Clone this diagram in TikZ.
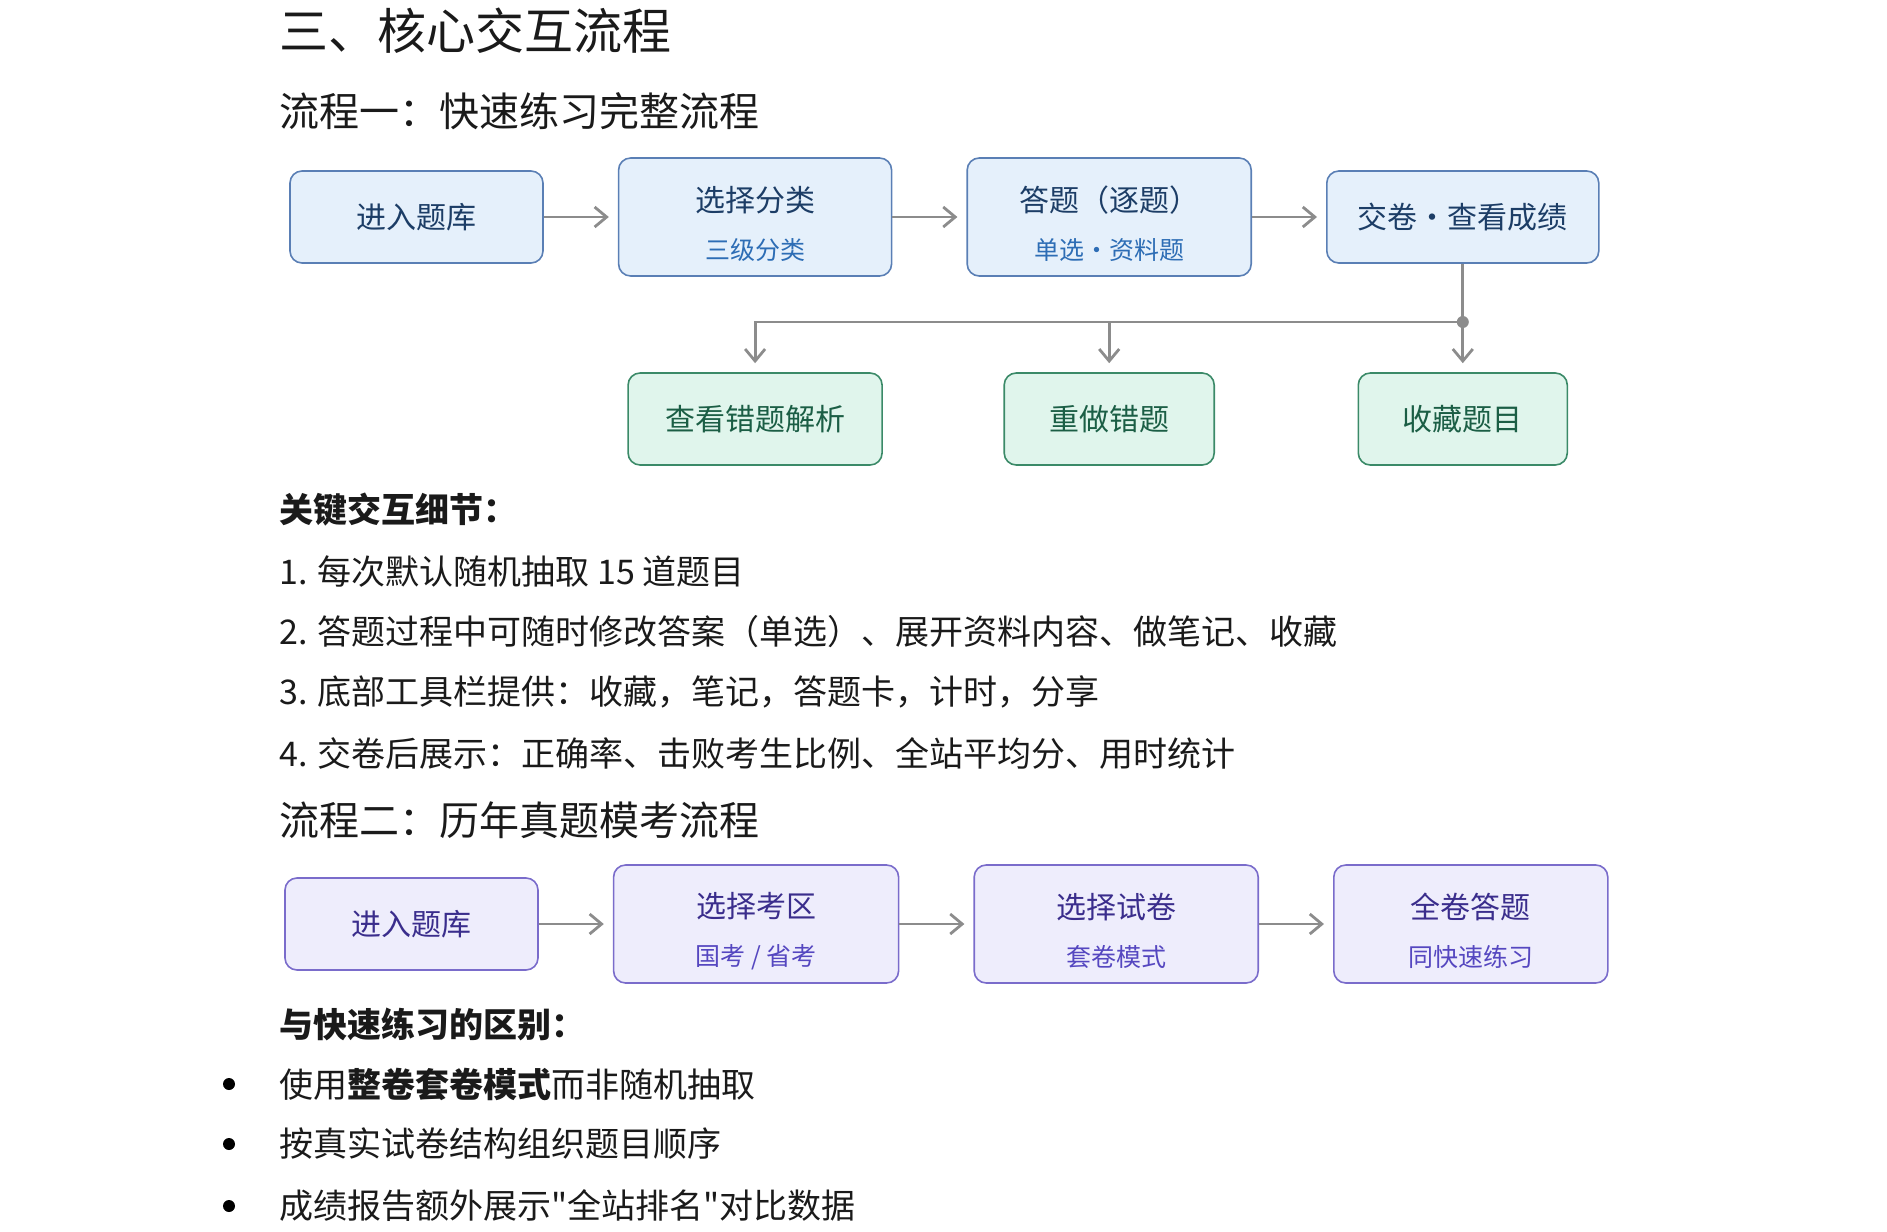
\documentclass[tikz,border=0pt]{standalone}
\usepackage{fontspec}
\setmainfont{Noto Sans CJK SC}
\newfontfamily\plainquote{Noto Sans CJK SC}
\usetikzlibrary{arrows.meta,positioning,calc}

\definecolor{bluefill}{HTML}{E5F0FB}
\definecolor{blueline}{HTML}{5A7FB5}
\definecolor{bluetext}{HTML}{1C3D66}
\definecolor{bluesub}{HTML}{2D6DB5}
\definecolor{greenfill}{HTML}{E0F5EC}
\definecolor{greenline}{HTML}{3B8A68}
\definecolor{greentext}{HTML}{1B5E45}
\definecolor{purplefill}{HTML}{EEEDFC}
\definecolor{purpleline}{HTML}{7A6CCB}
\definecolor{purpletext}{HTML}{3A2D8C}
\definecolor{purplesub}{HTML}{5547C0}
\definecolor{linkgray}{HTML}{8C8C8C}
\definecolor{textblack}{HTML}{1A1A1A}

\newcommand{\titlesize}{\fontsize{24.5pt}{29pt}\selectfont}
\newcommand{\headsize}{\fontsize{20pt}{24pt}\selectfont}
\newcommand{\bodysize}{\fontsize{17pt}{20pt}\selectfont}
\newcommand{\mainsize}{\fontsize{15pt}{18pt}\selectfont}
\newcommand{\subsize}{\fontsize{12.5pt}{15pt}\selectfont}
% main line on top, smaller line below
\newcommand{\twoline}[2]{\rule{0pt}{20pt}#1\\[6pt]{\subsize\color{subtext}#2}}
\newcommand{\dq}{{\plainquote"}}

\tikzset{
    >={Straight Barb[length=6pt,width=10pt]},
    node distance = 1cm and 37pt,
    flow/.style = {draw, rounded corners=6pt, line width=0.8pt, align=center,
                   inner sep=0pt, minimum height=46pt, font=\mainsize},
    tall/.style = {minimum height=59pt},
    bluebox/.style = {flow, draw=blueline, fill=bluefill, text=bluetext,
                      execute at begin node=\colorlet{subtext}{bluesub}},
    greenbox/.style = {flow, draw=greenline, fill=greenfill, text=greentext},
    purplebox/.style = {flow, draw=purpleline, fill=purplefill, text=purpletext,
                        execute at begin node=\colorlet{subtext}{purplesub}},
    link/.style = {->, draw=linkgray, line width=1.4pt, shorten >=4.5pt},
    trunk/.style = {draw=linkgray, line width=1.4pt},
    joint/.style = {circle, fill=linkgray, inner sep=0pt, minimum size=6pt},
    txt/.style = {anchor=west, inner sep=0pt, text=textblack, font=\bodysize},
    bullet/.style = {circle, fill=black, inner sep=0pt, minimum size=6pt}
}

\begin{document}
\begin{tikzpicture}[x=0.5pt,y=-0.5pt]
    \useasboundingbox (0,0) rectangle (1887,1232);

    \node[txt,font=\titlesize] (title) at (279,31) {三、核心交互流程};
    \node[txt,font=\headsize] (head1) at (279,111) {流程一：快速练习完整流程};

    % flow one
    \node[bluebox,minimum width=126.5pt] (q1) at (416.5,217) {进入题库};
    \node[bluebox,tall,minimum width=136.5pt] (q2) [right = of q1] {\twoline{选择分类}{三级分类}};
    \node[bluebox,tall,minimum width=142pt] (q3) [right = of q2] {\twoline{答题（逐题）}{单选·资料题}};
    \node[bluebox,minimum width=136pt] (q4) [right = of q3] {交卷·查看成绩};

    \path[link] (q1) edge (q2);
    \path[link] (q2) edge (q3);
    \path[link] (q3) edge (q4);

    % results after handing in
    \node[greenbox,minimum width=127pt] (r1) at (q2 |- 0,419) {查看错题解析};
    \node[greenbox,minimum width=105pt] (r2) at (q3 |- 0,419) {重做错题};
    \node[greenbox,minimum width=104.5pt] (r3) at (q4 |- 0,419) {收藏题目};

    \node[joint] (split) at (q4 |- 0,322) {};
    \coordinate (mid) at (r2 |- split);
    \draw[trunk] (q4) -- (split.center);
    \draw[link] (split.center) -| (r1);
    \draw[link] (mid) -- (r2);
    \draw[link] (split.center) -- (r3);

    \node[txt,font=\bodysize\bfseries] (keys) at (279,510) {关键交互细节：};
    \node[txt] (k1) at (279,572) {1. 每次默认随机抽取 15 道题目};
    \node[txt] (k2) at (279,632) {2. 答题过程中可随时修改答案（单选）、展开资料内容、做笔记、收藏};
    \node[txt] (k3) at (279,692) {3. 底部工具栏提供：收藏，笔记，答题卡，计时，分享};
    \node[txt] (k4) at (279,753) {4. 交卷后展示：正确率、击败考生比例、全站平均分、用时统计};

    % flow two
    \node[txt,font=\headsize] (head2) at (279,820) {流程二：历年真题模考流程};

    \node[purplebox,minimum width=126.5pt] (p1) at (411.5,924) {进入题库};
    \node[purplebox,tall,minimum width=142.5pt] (p2) [right = of p1] {\twoline{选择考区}{国考 / 省考}};
    \node[purplebox,tall,minimum width=142pt] (p3) [right = of p2] {\twoline{选择试卷}{套卷模式}};
    \node[purplebox,tall,minimum width=137pt] (p4) [right = of p3] {\twoline{全卷答题}{同快速练习}};

    \path[link] (p1) edge (p2);
    \path[link] (p2) edge (p3);
    \path[link] (p3) edge (p4);

    \node[txt,font=\bodysize\bfseries] (diff) at (279,1024) {与快速练习的区别：};
    \node[bullet] (d1) at (229,1084) {};
    \node[txt] (t1) at (279,1084) {使用\textbf{整卷套卷模式}而非随机抽取};
    \node[bullet] (d2) at (229,1144) {};
    \node[txt] (t2) at (279,1144) {按真实试卷结构组织题目顺序};
    \node[bullet] (d3) at (229,1206) {};
    \node[txt] (t3) at (279,1206) {成绩报告额外展示\dq 全站排名\dq 对比数据};
\end{tikzpicture}
\end{document}
